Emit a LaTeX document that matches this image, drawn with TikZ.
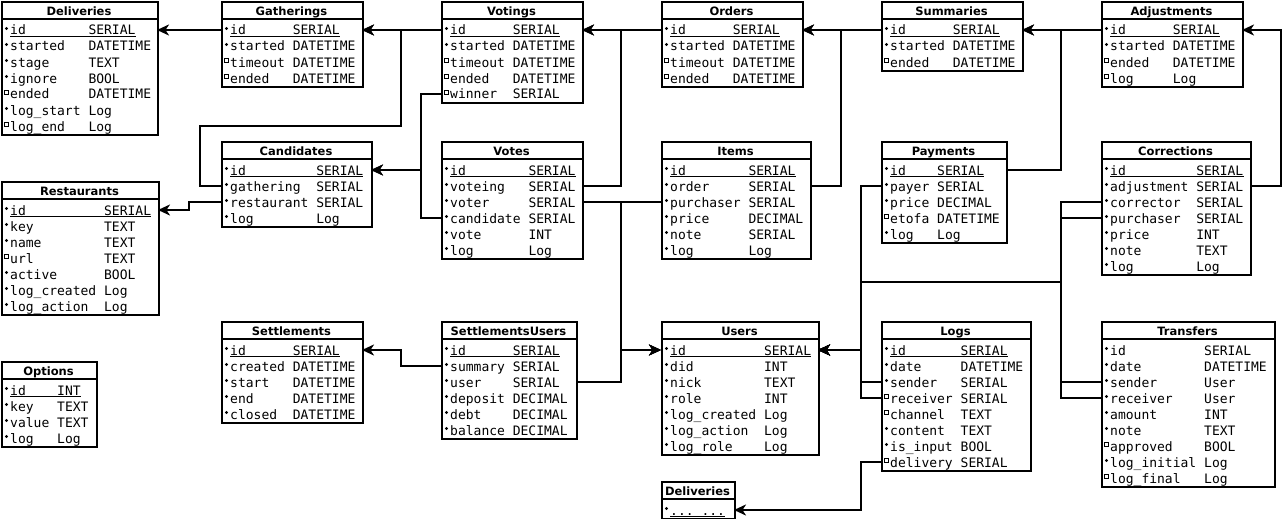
\documentclass[tikz,border=0pt]{standalone}
\usepackage{fontspec}
\newfontfamily\erMono{DejaVu Sans Mono}
\newfontfamily\erHead{DejaVu Sans}
\usetikzlibrary{arrows.meta}

\newcommand\erDots{...}

\tikzset{
  tbox/.style={draw, line width=2pt, inner sep=0pt, anchor=north west, fill=white},
  ttl/.style={inner sep=0pt, anchor=base, font=\erHead\bfseries\fontsize{11.5}{12}\selectfont},
  fld/.style={inner sep=0pt, anchor=base west, font=\erMono\fontsize{13}{13}\selectfont},
  dotfull/.style={circle, fill=black, inner sep=0pt, minimum size=3.2pt},
  dotopen/.style={rectangle, draw=black, line width=0.8pt, fill=white, inner sep=0pt, minimum size=4pt},
  fk/.style={line width=2pt, -{Stealth[length=12pt,width=11pt,inset=3.5pt]}},
  uline/.style={line width=1pt},
  sep/.style={line width=2pt},
}

% \erTable{name}{left}{right}{top}{rows}{title}{type column (chars)}{marker/field/type/pk,...}
\newcommand\erTable[8]{%
  \node[tbox, minimum width={#3-#2}, minimum height={21+16*#5}] (#1) at (#2,#4) {};
  \node[ttl] (#1-title) at ({(#2+#3)/2},{#4+14.5}) {#6};
  \draw[sep] (#1.west |- 0,{#4+18}) -- (#1.east |- 0,{#4+18});
  \foreach \mk/\fn/\ft/\pk [count=\i from 0] in {#8} {
    \pgfmathsetmacro\yc{#4+29+16*\i}
    \coordinate (#1-r\i-w) at (#2,\yc);
    \coordinate (#1-r\i-e) at (#3,\yc);
    \node[dot\mk] (#1-m\i) at ({#2+5.5},{\yc-1.5}) {};
    \node[fld] (#1-f\i) at ({#2+9},{\yc+5}) {\fn};
    \node[fld] (#1-t\i) at ({#2+9+#7*7.83},{\yc+5}) {\ft};
    \if\pk1
      \draw[uline] ([yshift=-1.5pt]#1-f\i.base west) -- ([yshift=-1.5pt]#1-t\i.base east);
    \fi
  }
}

\begin{document}
\begin{tikzpicture}[x=1pt,y=-1pt]
\useasboundingbox (0,0) rectangle (1282,519);
\fill[white] (0,0) rectangle (1282,519);

% ---- tables, top row
\erTable{deliveries}{1}{157}{1}{7}{Deliveries}{10}{full/id/SERIAL/1, full/started/DATETIME/0, full/stage/TEXT/0, full/ignore/BOOL/0, open/ended/DATETIME/0, full/log\_start/Log/0, open/log\_end/Log/0}
\erTable{gatherings}{221}{362}{1}{4}{Gatherings}{8}{full/id/SERIAL/1, full/started/DATETIME/0, open/timeout/DATETIME/0, open/ended/DATETIME/0}
\erTable{votings}{441}{582}{1}{5}{Votings}{8}{full/id/SERIAL/1, full/started/DATETIME/0, open/timeout/DATETIME/0, open/ended/DATETIME/0, open/winner/SERIAL/0}
\erTable{orders}{661}{802}{1}{4}{Orders}{8}{full/id/SERIAL/1, full/started/DATETIME/0, open/timeout/DATETIME/0, open/ended/DATETIME/0}
\erTable{summaries}{881}{1022}{1}{3}{Summaries}{8}{full/id/SERIAL/1, full/started/DATETIME/0, open/ended/DATETIME/0}
\erTable{adjustments}{1101}{1242}{1}{4}{Adjustments}{8}{full/id/SERIAL/1, full/started/DATETIME/0, open/ended/DATETIME/0, open/log/Log/0}

% ---- second row
\erTable{candidates}{221}{371}{141}{4}{Candidates}{11}{full/id/SERIAL/1, full/gathering/SERIAL/0, full/restaurant/SERIAL/0, full/log/Log/0}
\erTable{votes}{441}{582}{141}{6}{Votes}{10}{full/id/SERIAL/1, full/voteing/SERIAL/0, full/voter/SERIAL/0, full/candidate/SERIAL/0, full/vote/INT/0, full/log/Log/0}
\erTable{items}{661}{810}{141}{6}{Items}{10}{full/id/SERIAL/1, full/order/SERIAL/0, full/purchaser/SERIAL/0, full/price/DECIMAL/0, full/note/SERIAL/0, full/log/Log/0}
\erTable{payments}{881}{1006}{141}{5}{Payments}{6}{full/id/SERIAL/1, full/payer/SERIAL/0, full/price/DECIMAL/0, open/etofa/DATETIME/0, full/log/Log/0}
\erTable{corrections}{1101}{1250}{141}{7}{Corrections}{11}{full/id/SERIAL/1, full/adjustment/SERIAL/0, full/corrector/SERIAL/0, full/purchaser/SERIAL/0, full/price/INT/0, full/note/TEXT/0, full/log/Log/0}
\erTable{restaurants}{1}{158}{181}{7}{Restaurants}{12}{full/id/SERIAL/1, full/key/TEXT/0, full/name/TEXT/0, open/url/TEXT/0, full/active/BOOL/0, full/log\_created/Log/0, full/log\_action/Log/0}

% ---- bottom row
\erTable{settlements}{221}{362}{321}{5}{Settlements}{8}{full/id/SERIAL/1, full/created/DATETIME/0, full/start/DATETIME/0, full/end/DATETIME/0, full/closed/DATETIME/0}
\erTable{settlementsusers}{441}{576}{321}{6}{SettlementsUsers}{8}{full/id/SERIAL/1, full/summary/SERIAL/0, full/user/SERIAL/0, full/deposit/DECIMAL/0, full/debt/DECIMAL/0, full/balance/DECIMAL/0}
\erTable{users}{661}{818}{321}{7}{Users}{12}{full/id/SERIAL/1, full/did/INT/0, full/nick/TEXT/0, full/role/INT/0, full/log\_created/Log/0, full/log\_action/Log/0, full/log\_role/Log/0}
\erTable{logs}{881}{1030}{321}{8}{Logs}{9}{full/id/SERIAL/1, full/date/DATETIME/0, full/sender/SERIAL/0, open/receiver/SERIAL/0, open/channel/TEXT/0, full/content/TEXT/0, full/is\_input/BOOL/0, open/delivery/SERIAL/0}
\erTable{transfers}{1101}{1274}{321}{9}{Transfers}{12}{full/id/SERIAL/0, full/date/DATETIME/0, full/sender/User/0, full/receiver/User/0, full/amount/INT/0, full/note/TEXT/0, open/approved/BOOL/0, full/log\_initial/Log/0, open/log\_final/Log/0}
\erTable{options}{1}{96}{361}{4}{Options}{6}{full/id/INT/1, full/key/TEXT/0, full/value/TEXT/0, full/log/Log/0}
\erTable{deliveriesref}{661}{734}{481}{1}{Deliveries}{4}{full/\erDots/\erDots/1}

% ---- bend points shared by several links
\coordinate (gatherA) at (200,126);
\coordinate (gatherB) at (401,126);
\coordinate (userJ) at (861,282);

% ---- links between id columns of the top row
\draw[fk] (gatherings-r0-w) -- (deliveries-r0-e);
\draw[fk] (votings-r0-w) -- (gatherings-r0-e);
\draw[fk] (orders-r0-w) -- (votings-r0-e);
\draw[fk] (summaries-r0-w) -- (orders-r0-e);
\draw[fk] (adjustments-r0-w) -- (summaries-r0-e);

% ---- foreign keys
\draw[fk] (candidates-r1-w) -| (gatherA) -- (gatherB) |- (gatherings-r0-e);
\draw[fk] (candidates-r2-w) -- ++(-32,0) |- (restaurants-r0-e);
\draw[fk] (votings-r4-w) -- ++(-20,0) |- (candidates-r0-e);
\draw[fk] (votes-r3-w) -- ++(-20,0) |- (candidates-r0-e);
\draw[fk] (votes-r1-e) -- ++(39,0) |- (votings-r0-e);
\draw[fk] (votes-r2-e) -- ++(39,0) |- (users-r0-w);
\draw[fk] (items-r2-w) -- ++(-40,0) |- (users-r0-w);
\draw[fk] (settlementsusers-r2-e) -- ++(45,0) |- (users-r0-w);
\draw[fk] (items-r1-e) -- ++(31,0) |- (orders-r0-e);
\draw[fk] (payments-r0-e) -- ++(55,0) |- (summaries-r0-e);
\draw[fk] (corrections-r1-e) -- ++(31,0) |- (adjustments-r0-e);
\draw[fk] (payments-r1-w) -- ++(-20,0) |- (users-r0-e);
\draw[fk] (corrections-r2-w) -- ++(-40,0) |- (userJ) |- (users-r0-e);
\draw[fk] (corrections-r3-w) -- ++(-40,0) |- (userJ) |- (users-r0-e);
\draw[fk] (logs-r2-w) -- ++(-20,0) |- (users-r0-e);
\draw[fk] (logs-r3-w) -- ++(-20,0) |- (users-r0-e);
\draw[fk] (transfers-r2-w) -- ++(-40,0) |- (userJ) |- (users-r0-e);
\draw[fk] (transfers-r3-w) -- ++(-40,0) |- (userJ) |- (users-r0-e);
\draw[fk] (settlementsusers-r1-w) -- ++(-40,0) |- (settlements-r0-e);
\draw[fk] (logs-r7-w) -- ++(-20,0) |- (deliveriesref-r0-e);
\end{tikzpicture}
\end{document}
